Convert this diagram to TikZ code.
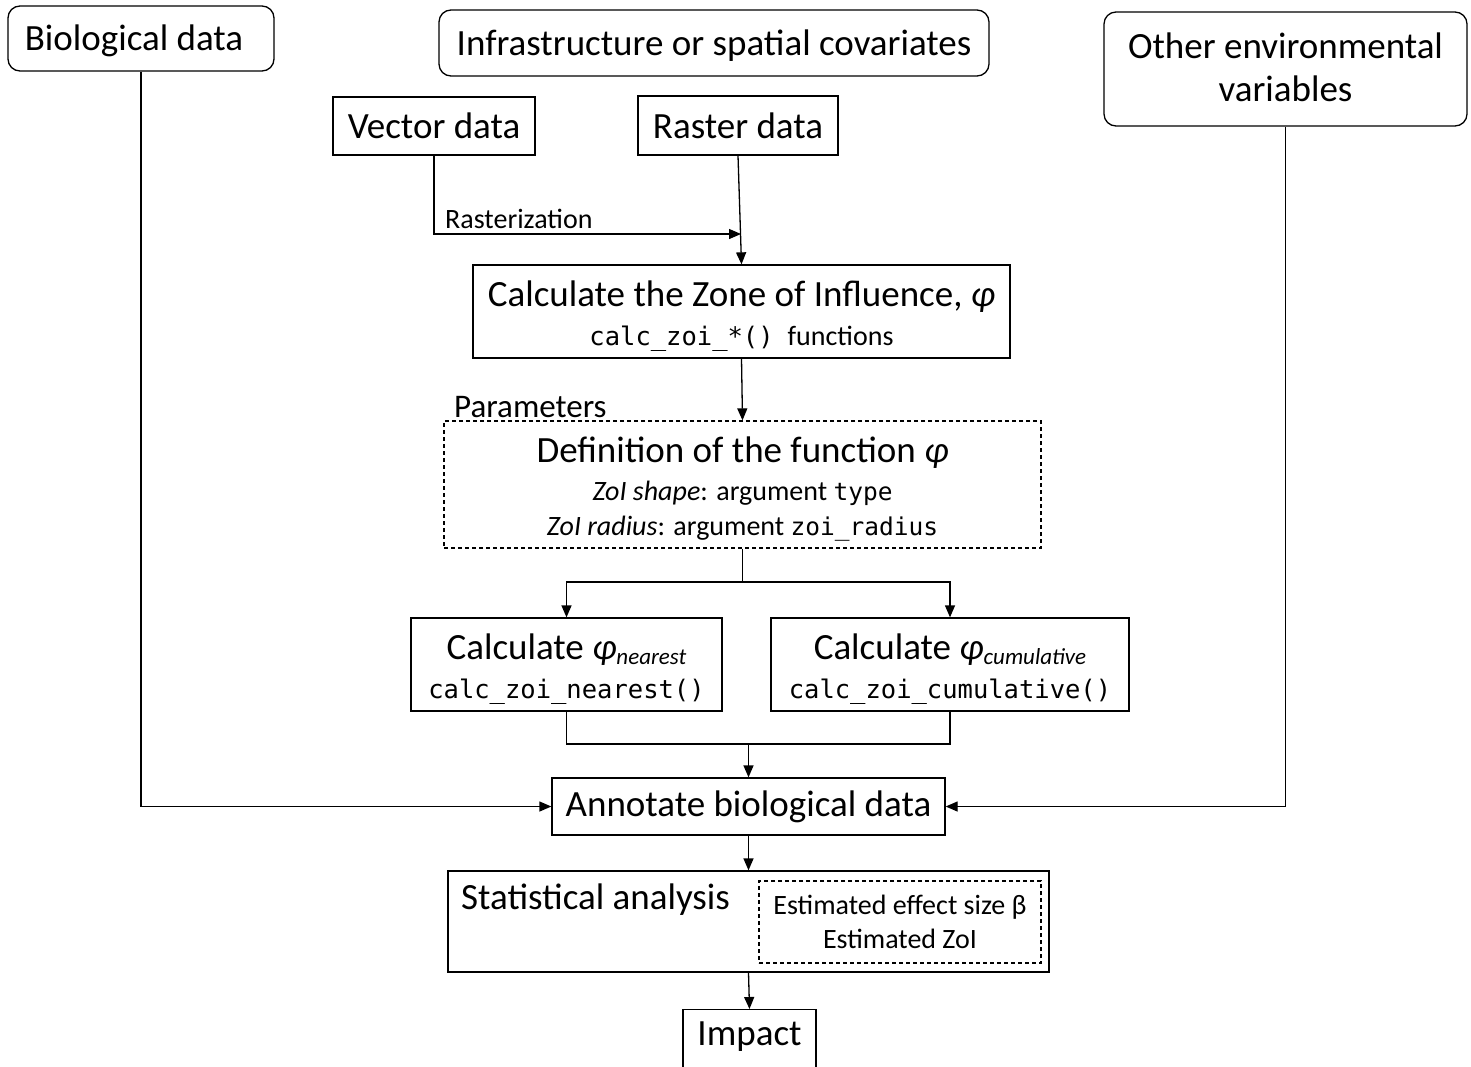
\documentclass[tikz,border=0pt]{standalone}
\usepackage{fontspec}
\setmainfont{Carlito}
\setmonofont{DejaVu Sans Mono}
\usetikzlibrary{arrows.meta,calc}
\newcommand{\fsz}[2]{\fontsize{#1}{#2}\selectfont}
\newcommand{\subl}[1]{\raisebox{-5pt}{\fsz{23}{24}\textit{#1}}}
\begin{document}
\begin{tikzpicture}[x=1pt,y=-1pt,
  box/.style={draw,line width=1.3pt,inner sep=0pt,align=center,font=\fsz{37}{39}},
  rbox/.style={box,rounded corners=12pt},
  dbox/.style={box,dashed,dash pattern=on 4pt off 3pt},
  txt/.style={inner sep=0pt,align=center,font=\fsz{37}{39}},
  arr/.style={line width=1.3pt,-{Triangle[length=12pt,width=10pt]}},
  ln/.style={line width=1.3pt},
  lbl/.style={inner sep=0pt,anchor=west}
]
\useasboundingbox (0,0) rectangle (1471,1066);
\fill[white] (0,0) rectangle (1471,1066);

\node[rbox,minimum width=266pt,minimum height=65pt] (bio) at (141,38.5) {};
\node[txt] (biotxt) at (134,40.5) {Biological data};
\node[rbox,minimum width=550pt,minimum height=66pt] (infra) at (714,43) {};
\node[txt] (infratxt) at (714,45.5) {Infrastructure or spatial covariates};
\node[rbox,minimum width=363pt,minimum height=114pt] (other) at (1285.5,69) {};
\node[txt,font=\fsz{37}{43}] (othertxt) at (1285.5,67) {Other environmental\\variables};

\node[box,minimum width=202pt,minimum height=58pt] (vec) at (434,126) {Vector data};
\node[box,minimum width=200pt,minimum height=59pt] (ras) at (738,125.5) {Raster data};

\node[box,minimum width=537pt,minimum height=93pt] (zoi) at (741.5,311.5) {};
\node[txt] (zoitxt) at (741.5,316)
  {Calculate the Zone of Influence, \textit{φ}\\{\ttfamily\fsz{25.5}{30}calc\_zoi\_*()\hspace{14pt}\rmfamily\fsz{28}{30}functions}};

\node[dbox,minimum width=597pt,minimum height=127pt] (def) at (742.5,484.5) {};
\node[txt,font=\fsz{37}{35}] (deftxt) at (742.5,489)
  {{Definition of the function \textit{φ}}\\[3pt]
   {\fsz{28}{30}\textit{ZoI shape}: argument {\ttfamily\fsz{24.5}{30}type}}\\
   {\fsz{28}{30}\textit{ZoI radius}: argument {\ttfamily\fsz{24.5}{30}zoi\_radius}}};
\node[lbl,font=\fsz{33}{30}] (par) at (454,407) {Parameters};

\node[box,minimum width=311pt,minimum height=93pt] (near) at (566.5,664.5) {};
\node[txt] (neartxt) at (566.5,669.5)
  {Calculate \textit{φ}\subl{nearest}\\{\ttfamily\fsz{25.5}{30}calc\_zoi\_nearest()}};
\node[box,minimum width=358pt,minimum height=93pt] (cum) at (950,664.5) {};
\node[txt] (cumtxt) at (950,669.5)
  {Calculate \textit{φ}\subl{cumulative}\\{\ttfamily\fsz{25.5}{30}calc\_zoi\_cumulative()}};

\node[box,minimum width=393pt,minimum height=57pt] (ann) at (748.5,806.5) {Annotate biological data};

\node[box,minimum width=601pt,minimum height=101pt] (stat) at (748.5,921.5) {};
\node[lbl,font=\fsz{37}{38}] (stattxt) at (461,900) {Statistical analysis};
\node[dbox,minimum width=282pt,minimum height=82pt,font=\fsz{28}{34}] (est) at (900,922)
  {Estimated effect size β\\Estimated ZoI};

\node[box,minimum width=133pt,minimum height=80pt,anchor=north] (imp) at (749.5,1009) {};
\node[txt] (imptxt) at (749.5,1037) {Impact};

% connectors
\coordinate (rz) at (741,234);
\draw[arr] (vec.south) |- (rz);
\node[lbl,font=\fsz{28}{28}] (rast) at (445,219) {Rasterization};
\draw[arr] (ras.south) -- (zoi.north);
\draw[arr] (zoi.south) -- (def.north);

\coordinate (split) at (742.5,582);
\draw[ln] (def.south) -- (split);
\draw[arr] (split) -| (near.north);
\draw[arr] (split) -| (cum.north);

\coordinate (join) at (748.5,744);
\draw[ln] (near.south) |- (join) -| (cum.south);
\draw[arr] (join) -- (ann.north);

\draw[arr] (bio.south) |- (ann.west);
\draw[arr] (other.south) |- (ann.east);

\draw[arr] (ann.south) -- (stat.north);
\draw[arr] (stat.south) -- (imp.north);
\end{tikzpicture}
\end{document}
